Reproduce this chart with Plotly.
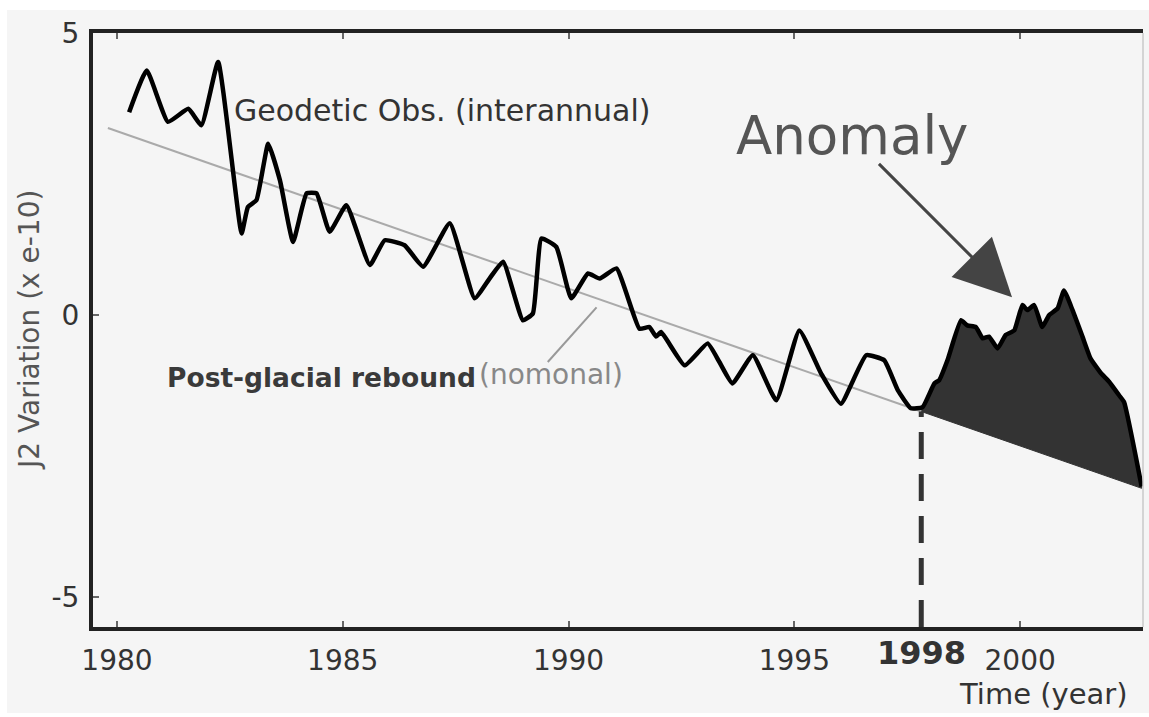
import numpy as np
import plotly.graph_objects as go

# ---------------- data ----------------
obs_years = [1980.27, 1980.66, 1981.13, 1981.58, 1981.87, 1982.24, 1982.76, 1982.90, 1983.09, 1983.35,
             1983.61, 1983.90, 1984.20, 1984.42, 1984.71, 1985.08, 1985.60, 1985.93, 1986.37, 1986.78,
             1987.37, 1987.92, 1988.25, 1988.55, 1988.99, 1989.21, 1989.40, 1989.73, 1990.06, 1990.43,
             1990.69, 1991.06, 1991.57, 1991.79, 1991.94, 1992.05, 1992.57, 1993.08, 1993.34, 1993.63,
             1994.08, 1994.60, 1995.11, 1995.59, 1996.03, 1996.59, 1996.99, 1997.29, 1997.58, 1997.84,
             1998.10, 1998.21, 1998.39, 1998.69, 1998.83, 1999.02, 1999.17, 1999.31, 1999.50, 1999.68,
             1999.87, 2000.05, 2000.16, 2000.31, 2000.49, 2000.64, 2000.83, 2000.97, 2001.16, 2001.38,
             2001.56, 2001.79, 2001.97, 2002.19, 2002.30, 2002.69]
obs_values = [3.60, 4.34, 3.43, 3.66, 3.37, 4.49, 1.45, 1.92, 2.04, 3.04,
              2.39, 1.30, 2.16, 2.16, 1.48, 1.95, 0.89, 1.33, 1.24, 0.86,
              1.63, 0.30, 0.65, 0.95, -0.09, 0.03, 1.36, 1.21, 0.30, 0.74,
              0.65, 0.83, -0.24, -0.21, -0.38, -0.30, -0.89, -0.50, -0.83, -1.21,
              -0.71, -1.51, -0.27, -1.03, -1.57, -0.71, -0.80, -1.33, -1.65, -1.63,
              -1.21, -1.15, -0.80, -0.09, -0.18, -0.21, -0.41, -0.38, -0.59, -0.35,
              -0.27, 0.18, 0.09, 0.18, -0.21, 0.00, 0.12, 0.44, 0.09, -0.38,
              -0.77, -1.03, -1.18, -1.42, -1.54, -3.04]

trend_years = [1979.8, 2002.69]
trend_values = [3.32, -3.07]

onset_year = 1997.81

x_ticks = [1980, 1985, 1990, 1995, 2000]
y_ticks = [-5, 0, 5]

pointer_x = [1989.54, 1990.62]
pointer_y = [-0.83, 0.14]

arrow_tail = (1996.84, 2.71)
arrow_tip = (1999.82, 0.32)

x_range = [1979.47, 2002.72]
y_range = [-5.53, 5.005]

# ---------------- derived ----------------
oy = np.array(obs_years)
ov = np.array(obs_values)
onset_trend = float(np.interp(onset_year, trend_years, trend_values))
onset_obs = float(np.interp(onset_year, oy, ov))
mask = oy > onset_year
fill_x = [onset_year] + list(oy[mask]) + [trend_years[1], onset_year]
fill_y = [onset_obs] + list(ov[mask]) + [trend_values[1], onset_trend]

FONT = "DejaVu Sans"

fig = go.Figure()

# post-glacial rebound trend (until onset)
fig.add_trace(go.Scatter(
    x=[trend_years[0], onset_year], y=[trend_values[0], onset_trend],
    mode="lines", line=dict(color="#aaaaaa", width=2), hoverinfo="skip"))

# anomaly fill
fig.add_trace(go.Scatter(
    x=fill_x, y=fill_y, mode="lines", fill="toself",
    fillcolor="#333333", line=dict(color="#333333", width=1), hoverinfo="skip"))

# dashed onset line
fig.add_trace(go.Scatter(
    x=[onset_year, onset_year], y=[y_range[0], onset_trend],
    mode="lines", line=dict(color="#333333", width=5, dash="27px,15px"), hoverinfo="skip"))

# geodetic observations
fig.add_trace(go.Scatter(
    x=obs_years, y=obs_values, mode="lines",
    line=dict(color="#000000", width=4.5, shape="spline", smoothing=0.4)))

# pointer line for the trend label
fig.add_trace(go.Scatter(
    x=pointer_x, y=pointer_y, mode="lines",
    line=dict(color="#999999", width=2), hoverinfo="skip"))

# ---------------- background bands ----------------
shapes = [
    dict(type="rect", xref="paper", yref="paper", x0=-0.0886, x1=1.0058, y0=-0.1515, y1=1.0556,
         fillcolor="#ffffff", line=dict(width=0), layer="below"),
    dict(type="rect", xref="paper", yref="paper", x0=-0.0819, x1=1.0058, y0=-0.1448, y1=1.0387,
         fillcolor="#f5f5f5", line=dict(width=0), layer="below"),
    dict(type="line", xref="paper", yref="paper", x0=1.0, x1=1.0, y0=0, y1=1,
         line=dict(color="#c8c8c8", width=1.5)),
]

annotations = [
    dict(x=1982.54, y=3.63, xref="x", yref="y", text="Geodetic Obs. (interannual)",
         showarrow=False, xanchor="left", yanchor="middle",
         font=dict(family=FONT, size=30, color="#333333")),
    dict(x=1981.06, y=-1.10, xref="x", yref="y", text="<b>Post-glacial rebound</b>",
         showarrow=False, xanchor="left", yanchor="middle",
         font=dict(family=FONT, size=26.5, color="#3a3a3a")),
    dict(x=1987.98, y=-1.05, xref="x", yref="y", text="(nomonal)",
         showarrow=False, xanchor="left", yanchor="middle",
         font=dict(family=FONT, size=28, color="#888888")),
    dict(x=1996.28, y=3.19, xref="x", yref="y", text="Anomaly",
         showarrow=False, xanchor="center", yanchor="middle",
         font=dict(family=FONT, size=53, color="#555555")),
    dict(x=arrow_tip[0], y=arrow_tip[1], xref="x", yref="y",
         ax=arrow_tail[0], ay=arrow_tail[1], axref="x", ayref="y",
         text="", showarrow=True, arrowhead=2, arrowsize=3.8, arrowwidth=3,
         arrowcolor="#444444"),
    dict(x=onset_year, y=-0.044, xref="x", yref="paper", text="<b>1998</b>",
         showarrow=False, xanchor="center", yanchor="middle",
         font=dict(family=FONT, size=32, color="#333333")),
    dict(x=0.905, y=-0.113, xref="paper", yref="paper", text="Time (year)",
         showarrow=False, xanchor="center", yanchor="middle",
         font=dict(family=FONT, size=29, color="#333333")),
    dict(x=-0.061, y=0.5, xref="paper", yref="paper", text="J2 Variation (x e-10)",
         showarrow=False, textangle=-90, xanchor="center", yanchor="middle",
         font=dict(family=FONT, size=28, color="#555555")),
]

fig.update_layout(
    width=1149, height=717,
    margin=dict(l=93, r=6, t=33, b=90, autoexpand=False),
    paper_bgcolor="#ffffff", plot_bgcolor="#f5f5f5",
    showlegend=False,
    shapes=shapes, annotations=annotations,
    xaxis=dict(range=x_range, tickvals=x_ticks, ticktext=[str(t) for t in x_ticks],
               showgrid=False, zeroline=False, showline=True, linecolor="#222222", linewidth=4,
               mirror="ticks", ticks="inside", ticklen=6, tickwidth=1.5, tickcolor="#666666",
               ticklabelstandoff=5,
               tickfont=dict(family=FONT, size=28, color="#333333")),
    yaxis=dict(range=y_range, tickvals=y_ticks, ticktext=[str(t) for t in y_ticks],
               showgrid=False, zeroline=False, showline=True, linecolor="#222222", linewidth=4,
               ticks="inside", ticklen=6, tickwidth=1.5, tickcolor="#666666",
               ticklabelstandoff=4,
               tickfont=dict(family=FONT, size=28, color="#333333")),
)

fig.write_html(
    "out.html",
    config={"displayModeBar": False},
    post_script="document.body.style.margin='0';document.documentElement.style.overflow='hidden';document.body.style.overflow='hidden';",
)
